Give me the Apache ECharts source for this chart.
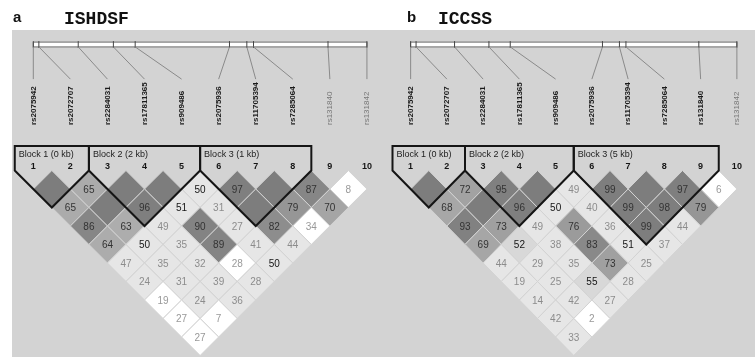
<!DOCTYPE html>
<html><head><meta charset="utf-8">
<script src="https://cdn.jsdelivr.net/npm/echarts@6/dist/echarts.min.js"></script>
<style>html,body{margin:0;padding:0;background:#fff}#c{width:755px;height:358px}</style>
</head><body><div id="c"></div>
<script>
// ---------- data ----------
const markers = ['rs2075942','rs2072707','rs2284031','rs17811365','rs909486','rs2075936','rs11705394','rs7285064','rs131840','rs131842'];
const markerNumbers = ['1','2','3','4','5','6','7','8','9','10'];
const positionsKb = [0, 0.25, 2.02, 3.6, 4.58, 8.82, 9.6, 9.9, 13.25, 15.0];
const spanKb = 15.0;

// panel a : ISHDSF
const letterA = 'a', titleA = 'ISHDSF';
const passA = [1,1,1,1,1,1,1,1,0,0];
const blockStartA = [1,3,6], blockEndA = [2,5,8];
const blockLabelA = ['Block 1 (0 kb)','Block 2 (2 kb)','Block 3 (1 kb)'];
// D' x100 per marker distance (row 1 = adjacent pairs); 100 = no number shown
const dprimeA = [
  [100,65,100,100,50,97,100,87,8],
  [65,100,96,51,31,100,79,70],
  [86,63,49,90,27,82,34],
  [64,50,35,89,41,44],
  [47,35,32,28,50],
  [24,31,39,28],
  [19,24,36],
  [27,7],
  [27]
];
// LD class: H strong LOD, B weak (dark text), L weak, W none
const classA = ['HHHHBHHHW','HHHBLHHH','HHLHLHW','HBLHLL','LLLWB','LLLL','WLL','WW','W'];

// panel b : ICCSS
const letterB = 'b', titleB = 'ICCSS';
const passB = [1,1,1,1,1,1,1,1,1,0];
const blockStartB = [1,3,6], blockEndB = [2,5,9];
const blockLabelB = ['Block 1 (0 kb)','Block 2 (2 kb)','Block 3 (5 kb)'];
const dprimeB = [
  [100,72,95,100,49,99,100,97,6],
  [68,100,96,50,40,99,98,79],
  [93,73,49,76,36,99,44],
  [69,52,38,83,51,37],
  [44,29,35,73,25],
  [19,25,55,28],
  [14,42,27],
  [42,2],
  [33]
];
const classB = ['HHHHLHHHW','HHHBLHHH','HHLHLHL','HHLHBL','LLLHL','LLHL','LLL','LW','L'];

// ---------- helpers ----------
const SANS = '"Liberation Sans", Arial, sans-serif';
function buildCells(rows, classes){
  const out = [];
  rows.forEach((row, di) => {
    const d = di + 1;
    row.forEach((v, i) => {
      const a = i + 1, b = a + d;
      out.push({x:(a+b)/2, y:d/2, v:v, c:classes[di][i]});
    });
  });
  return out;
}
const grayStops = [[1,125],[0.9,131],[0.83,137],[0.8,148],[0.7,165],[0.6,176]];
function strongGray(d){
  if (d < 0.6) return 216;
  for (let i=0;i<grayStops.length-1;i++){
    const [d0,g0]=grayStops[i],[d1,g1]=grayStops[i+1];
    if (d<=d0 && d>=d1) return Math.round(g1+(g0-g1)*(d-d1)/(d0-d1));
  }
  return 125;
}
function cellStyle(cell){
  if (cell.c === 'H'){
    const g = strongGray(cell.v/100);
    return {fill:'rgb('+g+','+g+','+g+')', text: g>200 ? '#151515' : '#333333'};
  }
  if (cell.c === 'B') return {fill:'#e6e6e6', text:'#151515'};
  if (cell.c === 'L') return {fill:'#e6e6e6', text:'#8c8c8c'};
  return {fill:'#ffffff', text:'#999999'};
}

// layout constants in axis units (1 unit = one marker spacing)
const BLOCK_TOP = -0.66, BLOCK_LABEL_Y = -0.42, NUM_Y = -0.11;
const BAR_TOP = -3.47, BAR_BOTTOM = -3.34, CONN_BOTTOM = -2.47, NAME_BOTTOM = -1.23;

function panelSeries(idx, rows, classes, bStart, bEnd, bLabel, pass){
  const cells = buildCells(rows, classes);
  const base = {xAxisIndex:idx, yAxisIndex:idx, type:'custom', silent:true, animation:false};
  const posX = positionsKb.map(p => 1 + 9*p/spanKb);
  return [
    Object.assign({}, base, {
      name:'bar'+idx, z:3,
      data:[[1,10]],
      renderItem(params, api){
        const p0 = api.coord([1, BAR_TOP]), p1 = api.coord([10, BAR_BOTTOM]);
        return {type:'rect', shape:{x:p0[0], y:p0[1], width:p1[0]-p0[0], height:p1[1]-p0[1]},
          style:{fill:'#ffffff', stroke:'#6a6a6a', lineWidth:1}};
      }
    }),
    Object.assign({}, base, {
      name:'markers'+idx, z:4,
      data: markers.map((m,k) => [k+1, posX[k]]),
      renderItem(params, api){
        const k = api.value(0), px = api.value(1);
        const i = params.dataIndex;
        const t0 = api.coord([px, BAR_TOP]), t1 = api.coord([px, BAR_BOTTOM]);
        const c1 = api.coord([k, CONN_BOTTOM]);
        const nb = api.coord([k, NAME_BOTTOM]);
        const num = api.coord([k, NUM_Y]);
        return {type:'group', children:[
          {type:'line', shape:{x1:t0[0], y1:t0[1]-1, x2:t0[0], y2:t1[1]+1}, style:{stroke:'#444', lineWidth:1}},
          {type:'line', shape:{x1:t1[0], y1:t1[1], x2:c1[0], y2:c1[1]}, style:{stroke:'#8a8a8a', lineWidth:1}},
          {type:'text', x:nb[0], y:nb[1], rotation:Math.PI/2,
            style:{text:markers[i], x:0, y:0, align:'left', verticalAlign:'middle',
              font:(pass[i] ? 'bold ' : '') + '8px ' + SANS, fill: pass[i] ? '#1a1a1a' : '#777777'}},
          {type:'text', x:num[0], y:num[1],
            style:{text:markerNumbers[i], x:0, y:0, align:'center', verticalAlign:'middle',
              font:'bold 9px ' + SANS, fill:'#151515'}}
        ]};
      }
    }),
    Object.assign({}, base, {
      name:'cells'+idx, z:5,
      data: cells.map(c => [c.x, c.y, c.v]),
      renderItem(params, api){
        const cell = cells[params.dataIndex];
        const x = api.value(0), y = api.value(1);
        const pts = [[x-0.5,y],[x,y-0.5],[x+0.5,y],[x,y+0.5]].map(p => api.coord(p));
        const ctr = api.coord([x,y]);
        const st = cellStyle(cell);
        return {type:'group', children:[
          {type:'polygon', shape:{points:pts}, style:{fill:st.fill, stroke:'#d3d3d3', lineWidth:1}},
          {type:'text', x:ctr[0], y:ctr[1]+1, style:{text: cell.v===100 ? '' : String(cell.v), x:0, y:0,
            align:'center', verticalAlign:'middle', font:'10px ' + SANS, fill:st.text}}
        ]};
      }
    }),
    Object.assign({}, base, {
      name:'blocks'+idx, z:6,
      data: bStart.map((s,i) => [s, bEnd[i]]),
      renderItem(params, api){
        const s = api.value(0), e = api.value(1);
        const pts = [[s-0.5,0],[s-0.5,BLOCK_TOP],[e+0.5,BLOCK_TOP],[e+0.5,0],[(s+e)/2,(e-s+1)/2]].map(p => api.coord(p));
        const lp = api.coord([s-0.5, BLOCK_LABEL_Y]);
        return {type:'group', children:[
          {type:'polygon', shape:{points:pts}, style:{fill:'none', stroke:'#151515', lineWidth:2}},
          {type:'text', x:lp[0]+4, y:lp[1], style:{text:bLabel[params.dataIndex], x:0, y:0,
            align:'left', verticalAlign:'middle', font:'9px ' + SANS, fill:'#222'}}
        ]};
      }
    })
  ];
}

const chart = echarts.init(document.getElementById('c'), null, {renderer:'canvas'});
const UNIT_Y = 37;
const Y0 = 170.5;
chart.setOption({
  animation:false,
  backgroundColor:'#ffffff',
  graphic:[
    {type:'rect', z:0, shape:{x:12, y:30, width:743, height:327}, style:{fill:'#d3d3d3'}, silent:true},
    {type:'text', z:1, x:13, y:18, style:{text:letterA, font:'bold 15px ' + SANS, fill:'#111', verticalAlign:'middle'}},
    {type:'text', z:1, x:64, y:19, style:{text:titleA, font:'bold 18px "Liberation Mono", monospace', fill:'#111', verticalAlign:'middle'}},
    {type:'text', z:1, x:407, y:18, style:{text:letterB, font:'bold 15px ' + SANS, fill:'#111', verticalAlign:'middle'}},
    {type:'text', z:1, x:438, y:19, style:{text:titleB, font:'bold 18px "Liberation Mono", monospace', fill:'#111', verticalAlign:'middle'}}
  ],
  grid:[
    {left:14.77, width:370.7, top:Y0-4*UNIT_Y, height:9*UNIT_Y},
    {left:392.5, width:369.4, top:Y0-4*UNIT_Y, height:9*UNIT_Y}
  ],
  xAxis:[
    {type:'value', gridIndex:0, min:0.5, max:10.5, show:false},
    {type:'value', gridIndex:1, min:0.5, max:10.5, show:false}
  ],
  yAxis:[
    {type:'value', gridIndex:0, min:-4, max:5, inverse:true, show:false},
    {type:'value', gridIndex:1, min:-4, max:5, inverse:true, show:false}
  ],
  series:[].concat(
    panelSeries(0, dprimeA, classA, blockStartA, blockEndA, blockLabelA, passA),
    panelSeries(1, dprimeB, classB, blockStartB, blockEndB, blockLabelB, passB)
  )
});
</script>
</body></html>
